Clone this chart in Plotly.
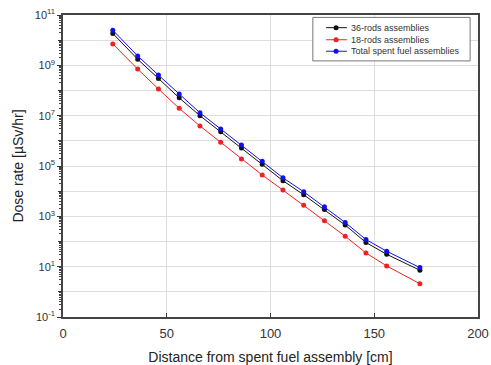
import plotly.graph_objects as go

distance_cm = [24, 36, 46, 56, 66, 76, 86, 96, 106, 116, 126, 136, 146, 156, 172]
rods36 = [1.86e10, 1.74e9, 3.0e8, 5.1e7, 1.0e7, 2.3e6, 5.2e5, 1.17e5, 2.6e4, 7.2e3, 1.86e3, 4.5e2, 91, 31, 7.2]
rods18 = [7.1e9, 7.1e8, 1.15e8, 1.95e7, 3.9e6, 8.7e5, 1.9e5, 4.4e4, 1.1e4, 2.75e3, 6.6e2, 1.62e2, 35, 10.7, 2.1]
total = [2.5e10, 2.35e9, 4.1e8, 7.2e7, 1.3e7, 2.95e6, 6.8e5, 1.55e5, 3.4e4, 9.5e3, 2.4e3, 5.7e2, 120, 41, 9.2]

series_names = ["36-rods assemblies", "18-rods assemblies", "Total spent fuel assemblies"]
series_colors = ["#111111", "#ee2222", "#1010ee"]

x_ticks = [0, 50, 100, 150, 200]
y_label_exps = [-1, 1, 3, 5, 7, 9, 11]
y_grid_exps = [0, 2, 4, 6, 8, 10]

fig = go.Figure()
for name, vals, col in zip(series_names, [rods36, rods18, total], series_colors):
    fig.add_trace(go.Scatter(
        x=distance_cm, y=vals, name=name, mode="lines+markers",
        line=dict(color=col, width=1),
        marker=dict(color=col, size=5, symbol="circle"),
        showlegend=False,
    ))

# secondary overlay axis carrying the unlabeled even-decade grid lines
fig.add_trace(go.Scatter(x=[None], y=[None], yaxis="y2", showlegend=False, hoverinfo="skip"))

# manual legend (compact, as in the reference)
leg_x0, leg_x1, leg_y0, leg_y1 = 0.602, 0.981, 0.848, 0.992
row_y = [0.958, 0.918, 0.880]
shapes = [dict(type="rect", xref="paper", yref="paper", x0=leg_x0, x1=leg_x1, y0=leg_y0, y1=leg_y1,
               line=dict(color="#777777", width=1), fillcolor="white", layer="above")]
annotations = []
for name, col, yy in zip(series_names, series_colors, row_y):
    shapes.append(dict(type="line", xref="paper", yref="paper", x0=0.634, x1=0.684, y0=yy, y1=yy,
                       line=dict(color=col, width=1), layer="above"))
    shapes.append(dict(type="circle", xref="paper", yref="paper", xsizemode="pixel", ysizemode="pixel",
                       xanchor=0.658, yanchor=yy, x0=-2.5, x1=2.5, y0=-2.5, y1=2.5,
                       fillcolor=col, line=dict(color=col, width=0), layer="above"))
    annotations.append(dict(text=name, xref="paper", yref="paper", x=0.689, y=yy, xanchor="left",
                            yanchor="middle", showarrow=False, font=dict(size=9, color="#333333")))

minor_vals = [m * 10 ** e for e in range(-1, 11) for m in range(2, 10)]

fig.update_layout(
    width=491, height=365,
    margin=dict(l=63, r=13, t=15, b=48),
    paper_bgcolor="white", plot_bgcolor="white",
    font=dict(family="Liberation Sans, Arial, sans-serif", color="#222222"),
    showlegend=False,
    shapes=shapes,
    annotations=annotations,
    xaxis=dict(
        range=[0, 200], tickmode="array", tickvals=x_ticks,
        ticks="inside", ticklen=4, tickcolor="#333333",
        showgrid=True, gridcolor="#dddddd", gridwidth=1,
        showline=True, linecolor="#444444", linewidth=1.5, mirror=True,
        zeroline=False, automargin=False, ticklabelstandoff=4,
        tickfont=dict(size=13, color="#333333"),
        title=dict(text="Distance from spent fuel assembly [cm]", font=dict(size=14, color="#222222"), standoff=12),
    ),
    yaxis=dict(
        type="log", range=[-1, 11],
        tickmode="array", tickvals=[10 ** e for e in y_label_exps],
        ticktext=[f"10<sup>{e}</sup>" for e in y_label_exps],
        ticks="outside", ticklen=4, tickcolor="#333333",
        showgrid=True, gridcolor="#dddddd", gridwidth=1,
        showline=True, linecolor="#444444", linewidth=1.5, mirror=True,
        zeroline=False, automargin=False,
        minor=dict(tickmode="array", tickvals=minor_vals, ticks="outside", ticklen=2,
                   tickcolor="#444444", showgrid=False),
        tickfont=dict(size=11, color="#333333"),
        title=dict(text="Dose rate [µSv/hr]", font=dict(size=14, color="#222222"), standoff=8),
    ),
    yaxis2=dict(type="log", range=[-1, 11], overlaying="y", side="left",
                tickmode="array", tickvals=[10 ** e for e in y_grid_exps],
                showticklabels=False, ticks="outside", ticklen=4, tickcolor="#333333",
                showgrid=True, gridcolor="#dddddd", gridwidth=1,
                showline=False, zeroline=False, automargin=False),
)

fig.write_html("out.html", config={"displayModeBar": False},
               post_script="document.body.style.margin='0';")
